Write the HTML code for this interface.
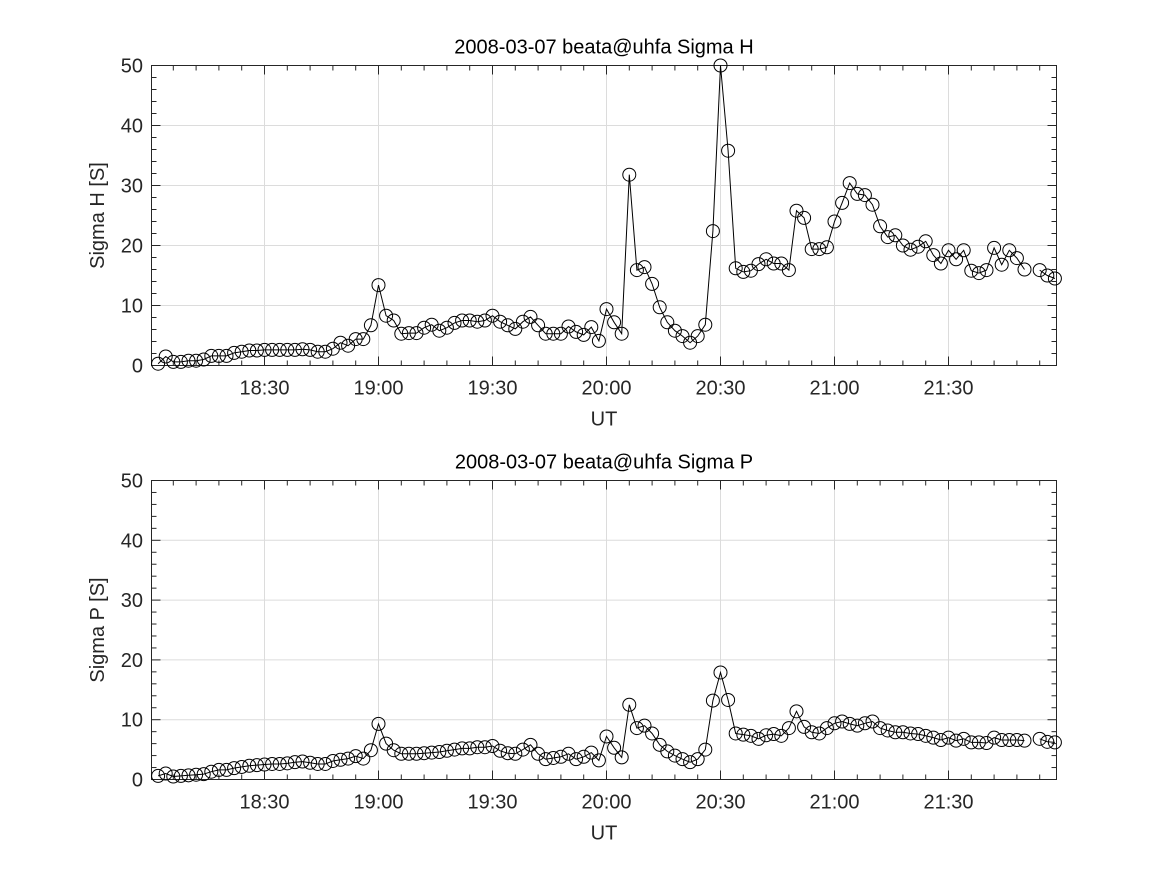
<!DOCTYPE html>
<html><head><meta charset="utf-8"><style>
body{margin:0;background:#fff;}
svg{display:block;font-family:"Liberation Sans","DejaVu Sans",sans-serif;}
</style></head><body>
<svg id="fig" width="1167" height="875" viewBox="0 0 1167 875" xmlns="http://www.w3.org/2000/svg"></svg>
<script>
// minutes after 18:00 (2-min sampling), null = missing
const startMin = 2;
const stepMin = 2;
const sigmaH = [0.3,1.5,0.6,0.6,0.8,0.8,1.0,1.6,1.6,1.6,2.1,2.3,2.5,2.5,2.6,2.6,2.6,2.6,2.6,2.7,2.6,2.3,2.3,2.8,3.8,3.3,4.4,4.4,6.7,
13.4,8.3,7.5,5.3,5.4,5.4,6.3,6.8,5.8,6.3,7.1,7.5,7.5,7.3,7.5,8.3,7.3,6.7,6.1,7.3,8.1,6.7,5.3,5.3,5.3,6.5,5.6,5.1,6.4,4.1,
9.4,7.2,5.3,31.8,15.9,16.4,13.6,9.7,7.2,5.8,4.9,3.8,4.9,6.8,22.4,50,35.8,16.2,15.6,15.8,16.9,17.7,17.0,17.0,15.9,25.8,24.6,
19.4,19.4,19.7,24.0,27.1,30.4,28.6,28.4,26.8,23.2,21.4,21.7,20.0,19.3,19.8,20.7,18.4,17.0,19.2,17.7,19.2,15.8,15.4,15.9,
19.6,16.8,19.2,17.9,16.0,null,15.9,15.0,14.5];
const sigmaP = [0.6,1.0,0.5,0.6,0.7,0.8,0.9,1.3,1.6,1.6,1.9,2.1,2.3,2.4,2.5,2.6,2.6,2.7,2.9,3.0,2.8,2.6,2.6,3.1,3.3,3.5,3.9,3.5,4.9,
9.3,6.0,4.9,4.3,4.3,4.3,4.4,4.5,4.6,4.8,5.0,5.2,5.2,5.4,5.4,5.6,4.8,4.4,4.3,5.0,5.8,4.3,3.4,3.6,3.8,4.3,3.4,3.8,4.5,3.2,
7.2,5.3,3.7,12.5,8.6,9.0,7.7,5.8,4.7,4.0,3.4,2.9,3.4,5.0,13.2,17.9,13.3,7.7,7.5,7.3,6.8,7.4,7.6,7.3,8.6,11.4,8.8,
7.9,7.7,8.6,9.4,9.7,9.3,9.0,9.4,9.7,8.6,8.2,7.9,7.9,7.7,7.6,7.3,7.0,6.6,7.0,6.5,6.8,6.2,6.2,6.1,
7.0,6.6,6.6,6.6,6.5,null,6.8,6.3,6.2];
const xTickLabels = ["18:30","19:00","19:30","20:00","20:30","21:00","21:30"];
const xTickMins = [30,60,90,120,150,180,210];
const yTicks = [0,10,20,30,40,50];

const NS="http://www.w3.org/2000/svg";
const svg=document.getElementById('fig');
function mk(tag,attrs,parent){const e=document.createElementNS(NS,tag);for(const k in attrs)e.setAttribute(k,attrs[k]);(parent||svg).appendChild(e);return e;}
const X0=150.5, PXM=3.8, XL=151.5, XR=1056.5;
function xs(t){return X0+PXM*t;}

function panel(top,bot,title,ylabel,vals,key){
  const g=mk('g',{});
  
  
  const ys=v=>bot-(bot-top)*v/50;
  // grid
  xTickMins.forEach(t=>{const l=mk('line',{x1:xs(t),x2:xs(t),y1:top,y2:bot,stroke:'#dcdcdc','stroke-width':1},g);
    });
  yTicks.forEach(v=>{const l=mk('line',{x1:XL,x2:XR,y1:ys(v),y2:ys(v),stroke:'#dcdcdc','stroke-width':1},g);
    });
  // minor ticks
  for(let t=6;t<238;t+=6){const mj=xTickMins.includes(t);const L=mj?9:5;
    mk('line',{x1:xs(t),x2:xs(t),y1:bot,y2:bot-L,stroke:'#262626'},g);
    mk('line',{x1:xs(t),x2:xs(t),y1:top,y2:top+L,stroke:'#262626'},g);}
  for(let v=2;v<50;v+=2){const mj=v%10===0;const L=mj?9:5;
    mk('line',{x1:XL,x2:XL+L,y1:ys(v),y2:ys(v),stroke:'#262626'},g);
    mk('line',{x1:XR,x2:XR-L,y1:ys(v),y2:ys(v),stroke:'#262626'},g);}
  const box=mk('rect',{x:XL,y:top,width:XR-XL,height:bot-top,fill:'none',stroke:'#262626','stroke-width':1},g);
  
  // ticks labels
  yTicks.forEach(v=>{const t=mk('text',{x:143,y:ys(v)+7,'text-anchor':'end','font-size':20,fill:'#262626'},g);t.textContent=v;
    });
  xTickMins.forEach((m,i)=>{const t=mk('text',{x:xs(m),y:bot+29,'text-anchor':'middle','font-size':20,fill:'#262626'},g);t.textContent=xTickLabels[i];
    });
  const xt=mk('text',{x:604,y:bot+60,'text-anchor':'middle','font-size':20,fill:'#262626'},g);xt.textContent='UT';
  
  const yt=mk('text',{x:104,y:(top+bot)/2,'text-anchor':'middle','font-size':20,fill:'#262626',transform:`rotate(-90 104 ${(top+bot)/2})`},g);yt.textContent=ylabel;
  
  const tt=mk('text',{x:604,y:top-12,'text-anchor':'middle','font-size':20,fill:'#000'},g);tt.textContent=title;
  
  // series
  let d='',pen=false;
  vals.forEach((v,i)=>{if(v===null){pen=false;return;}const px=xs(startMin+stepMin*i),py=ys(v);d+=(pen?'L':'M')+px.toFixed(1)+' '+py.toFixed(1);pen=true;});
  const p=mk('path',{d:d,fill:'none',stroke:'#000','stroke-width':1},g);
  
  vals.forEach((v,i)=>{if(v===null)return;
    const c=mk('circle',{cx:xs(startMin+stepMin*i),cy:ys(v),r:6.5,fill:'none',stroke:'#000','stroke-width':1},g);
    });
}
panel(65.5,365.5,'2008-03-07  beata@uhfa Sigma H','Sigma H [S]',sigmaH,'sigma-h');
panel(480.5,779.5,'2008-03-07  beata@uhfa Sigma P','Sigma P [S]',sigmaP,'sigma-p');
</script>
</body></html>
